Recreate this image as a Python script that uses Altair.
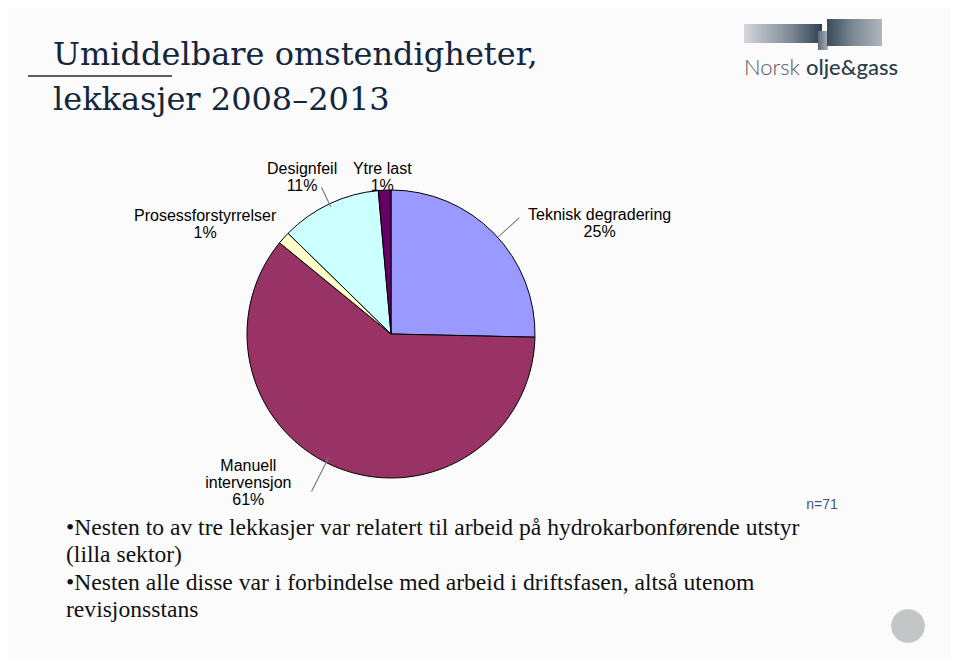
import altair as alt
import pandas as pd

# ---------------- data ----------------
categories = ["Teknisk degradering", "Manuell intervensjon", "Prosessforstyrrelser", "Designfeil", "Ytre last"]
label_text = ["Teknisk degradering", "Manuell\nintervensjon", "Prosessforstyrrelser", "Designfeil", "Ytre last"]
counts = [18, 43, 1, 8, 1]
colors = ["#9999FF", "#993366", "#FFFFCC", "#CCFFFF", "#660066"]

title_lines = ["Umiddelbare omstendigheter,", "lekkasjer 2008\u20132013"]
bullet_lines = [
    "\u2022Nesten to av tre lekkasjer var relatert til arbeid p\u00e5 hydrokarbonf\u00f8rende utstyr",
    "(lilla sektor)",
    "\u2022Nesten alle disse var i forbindelse med arbeid i driftsfasen, alts\u00e5 utenom",
    "revisjonsstans",
]
n_label = "n=71"
logo_words = ["Norsk", "olje&gass"]

df = pd.DataFrame({"cat": categories, "lab": label_text, "count": counts, "idx": list(range(len(counts)))})
dummy = pd.DataFrame({"k": [0]})

# ---------------- layout ----------------
W, H = 943, 651
CX, CY = 383, 326
R = 144
TAU = 6.283185307179586

theta_scale = alt.Scale(domain=[0, sum(counts)], range=[0, TAU])

base = (
    alt.Chart(df)
    .transform_joinaggregate(total="sum(count)")
    .transform_window(cum="sum(count)", sort=[alt.SortField("idx")], frame=[None, 0])
    .transform_calculate(
        start="datum.cum - datum.count",
        end="datum.cum",
        mid="datum.cum - datum.count / 2",
        pct="round(datum.count / datum.total * 100)",
    )
    .transform_calculate(label="datum.lab + '\\n' + format(datum.pct, 'd') + '%'")
)

pie = base.mark_arc(radius=R, stroke="#000000", strokeWidth=1).encode(
    theta=alt.Theta("start:Q", scale=theta_scale),
    theta2="end:Q",
    color=alt.Color("cat:N", scale=alt.Scale(domain=categories, range=colors), legend=None),
    x=alt.value(CX),
    y=alt.value(CY),
)

layers = [pie]

label_style = [
    # cat, dx, dy, leader (inner radius, outer radius, angle offset in degrees) or None
    ("Teknisk degradering", 83.5, 3.5, (145, 173, 2.2)),
    ("Manuell intervensjon", -82, -32, (139, 176, 6.5)),
    ("Prosessforstyrrelser", -55.5, -1.4, None),
    ("Designfeil", -14, -6.5, (141, 162, 0)),
    ("Ytre last", -1.0, 9.5, None),
]

for cat, dx, dy, lead in label_style:
    sub = base.transform_filter(alt.datum.cat == cat)
    if lead is not None:
        off = lead[2] / 360.0
        layers.append(
            sub.transform_calculate(
                a0=f"datum.mid + datum.total * {off} - 0.012",
                a1=f"datum.mid + datum.total * {off} + 0.012",
            )
            .mark_arc(radius=lead[1], radius2=lead[0], color="#7f7f7f", stroke="#7f7f7f", strokeWidth=0.8)
            .encode(
                theta=alt.Theta("a0:Q", scale=theta_scale),
                theta2="a1:Q",
                x=alt.value(CX),
                y=alt.value(CY),
            )
        )
    layers.append(
        sub.mark_text(
            font="Liberation Sans", fontSize=16, lineBreak="\n", lineHeight=17,
            align="center", baseline="middle", dx=dx, dy=dy, radius=175, color="#000000",
        ).encode(
            theta=alt.Theta("mid:Q", scale=theta_scale),
            text="label:N",
            x=alt.value(CX),
            y=alt.value(CY),
        )
    )

deco = alt.Chart(dummy)

title = deco.mark_text(
    text=title_lines, font="DejaVu Serif", fontSize=32, lineHeight=45,
    align="left", baseline="alphabetic", color="#13263b",
).encode(x=alt.value(45), y=alt.value(57))

underline = deco.mark_rule(color="#2b2b2b", strokeWidth=1.5).encode(
    x=alt.value(20), x2=alt.value(164), y=alt.value(68)
)

bullets = deco.mark_text(
    text=bullet_lines, font="Liberation Serif", fontSize=23.6, lineHeight=27.4,
    align="left", baseline="alphabetic", color="#111111",
).encode(x=alt.value(58), y=alt.value(527))

nlab = deco.mark_text(
    text=n_label, font="Liberation Sans", fontSize=14, align="center", baseline="middle", color="#3a5a80",
).encode(x=alt.value(814), y=alt.value(497))

circle = deco.mark_circle(size=1134, opacity=1, color="#c3c5c6").encode(
    x=alt.value(900), y=alt.value(618)
)

grad_left = alt.Gradient(
    gradient="linear",
    stops=[alt.GradientStop(color="#d3d7db", offset=0), alt.GradientStop(color="#7d8a96", offset=0.6),
           alt.GradientStop(color="#2e3f50", offset=1)],
    x1=0, x2=1, y1=0, y2=0,
)
grad_right = alt.Gradient(
    gradient="linear",
    stops=[alt.GradientStop(color="#3a4b5c", offset=0), alt.GradientStop(color="#7f8b97", offset=0.5),
           alt.GradientStop(color="#aeb5bc", offset=1)],
    x1=0, x2=1, y1=0, y2=0,
)
grad_mid = alt.Gradient(
    gradient="linear",
    stops=[alt.GradientStop(color="#5d6b78", offset=0), alt.GradientStop(color="#a9b1b9", offset=1)],
    x1=0, x2=1, y1=0, y2=0,
)

logo_l = deco.mark_rect(color=grad_left).encode(
    x=alt.value(736), x2=alt.value(814), y=alt.value(16), y2=alt.value(35)
)
logo_m = deco.mark_rect(color=grad_mid).encode(
    x=alt.value(810), x2=alt.value(820), y=alt.value(23), y2=alt.value(42)
)
logo_r = deco.mark_rect(color=grad_right).encode(
    x=alt.value(819), x2=alt.value(874), y=alt.value(11), y2=alt.value(38)
)
logo_t1 = deco.mark_text(
    text=logo_words[0], font="Lato", fontSize=22, fontWeight=300, align="left", baseline="alphabetic",
    color="#58595b",
).encode(x=alt.value(736), y=alt.value(67))
logo_t2 = deco.mark_text(
    text=logo_words[1], font="Lato", fontSize=22, fontWeight=500, align="right", baseline="alphabetic",
    color="#2c3e4c",
).encode(x=alt.value(890), y=alt.value(67))

chart = alt.layer(
    *layers, title, underline, bullets, nlab, circle, logo_l, logo_m, logo_r, logo_t1, logo_t2
).properties(
    width=W, height=H, padding=0,
    autosize=alt.AutoSizeParams(type="none"),
    background="#fbfbfb",
).configure_view(stroke=None)

chart.save("out.html", embed_options={"renderer": "svg", "actions": False})
